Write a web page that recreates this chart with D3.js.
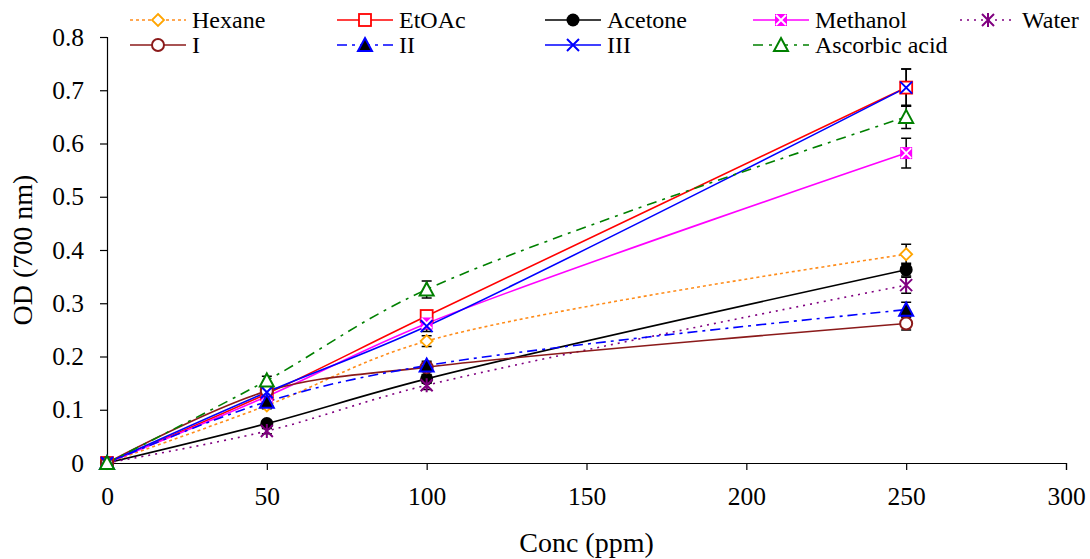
<!DOCTYPE html>
<html>
<head>
<meta charset="utf-8">
<script src="https://cdn.jsdelivr.net/npm/d3@7"></script>
<style>
  body { margin: 0; background: #fff; }
  text { font-family: "Liberation Serif", "Times New Roman", serif; fill: #000; }
</style>
</head>
<body>
<div id="chart"></div>
<script>
const conc = [0, 50, 100, 250];
const xTicks = [0, 50, 100, 150, 200, 250, 300];
const yTicks = [0, 0.1, 0.2, 0.3, 0.4, 0.5, 0.6, 0.7, 0.8];

const seriesNames = ["Hexane", "EtOAc", "Acetone", "Methanol", "Water", "I", "II", "III", "Ascorbic acid"];
const hexane   = [0, 0.108, 0.229, 0.392];
const etoac    = [0, 0.130, 0.276, 0.705];
const acetone  = [0, 0.074, 0.158, 0.363];
const methanol = [0, 0.125, 0.262, 0.582];
const water    = [0, 0.060, 0.146, 0.334];
const seriesI  = [0, 0.135, 0.180, 0.262];
const seriesII = [0, 0.115, 0.183, 0.288];
const seriesIII = [0, 0.133, 0.257, 0.705];
const ascorbic = [0, 0.155, 0.326, 0.650];

const errHexane   = [0, 0.006, 0.010, 0.019];
const errEtoac    = [0, 0.006, 0.010, 0.035];
const errAcetone  = [0, 0.005, 0.008, 0.012];
const errMethanol = [0, 0.006, 0.010, 0.028];
const errWater    = [0, 0.005, 0.008, 0.015];
const errI        = [0, 0.005, 0.008, 0.012];
const errII       = [0, 0.005, 0.008, 0.014];
const errIII      = [0, 0.006, 0.010, 0.035];
const errAscorbic = [0, 0.008, 0.016, 0.022];

const styles = [
  { color: "#FF8C1A", dash: "3,3", marker: "diamond" },
  { color: "#FF0000", dash: null, marker: "square" },
  { color: "#000000", dash: null, marker: "circle" },
  { color: "#FF00FF", dash: null, marker: "xsquare" },
  { color: "#800080", dash: "2,5", marker: "star" },
  { color: "#8B1A1A", dash: null, marker: "ocircle" },
  { color: "#0000FF", dash: "10,5,3,5", marker: "triangle" },
  { color: "#0000FF", dash: null, marker: "cross" },
  { color: "#008000", dash: "10,6,3,6", marker: "otriangle" }
];

const values = [hexane, etoac, acetone, methanol, water, seriesI, seriesII, seriesIII, ascorbic];
const errors = [errHexane, errEtoac, errAcetone, errMethanol, errWater, errI, errII, errIII, errAscorbic];

const width = 1090, height = 559;
const margin = { top: 37, right: 24, bottom: 96, left: 107 };

const svg = d3.select("#chart").append("svg")
  .attr("width", width)
  .attr("height", height);

const x = d3.scaleLinear().domain([0, 300]).range([margin.left, width - margin.right]);
const y = d3.scaleLinear().domain([0, 0.8]).range([height - margin.bottom, margin.top]);

// axes
const xAxis = svg.append("g")
  .attr("transform", `translate(0,${y(0)})`)
  .call(d3.axisBottom(x).tickValues(xTicks).tickSize(7).tickPadding(20).tickFormat(d3.format("d")));
const yAxis = svg.append("g")
  .attr("transform", `translate(${x(0)},0)`)
  .call(d3.axisLeft(y).tickValues(yTicks).tickSize(7).tickPadding(16).tickFormat(d => d === 0 ? "0" : d3.format(".1f")(d)));

[xAxis, yAxis].forEach(g => {
  g.select(".domain").attr("stroke", "#000").attr("stroke-width", 1.2);
  g.selectAll(".tick line").attr("stroke", "#000").attr("stroke-width", 1.2);
  g.selectAll(".tick text").style("font-size", "25.5px").style("font-family", "Liberation Serif").attr("fill", "#000");
});
xAxis.selectAll(".tick text").attr("dy", "0.6em");

svg.append("text")
  .attr("x", x(150))
  .attr("y", 552)
  .attr("text-anchor", "middle")
  .style("font-size", "28px")
  .text("Conc (ppm)");

svg.append("text")
  .attr("transform", `translate(32,${y(0.4)}) rotate(-90)`)
  .attr("text-anchor", "middle")
  .style("font-size", "28px")
  .text("OD (700 nm)");

function drawMarker(g, type, color, cx, cy) {
  const s = 6;
  if (type === "diamond") {
    g.append("path").attr("d", `M${cx},${cy - s}L${cx + s},${cy}L${cx},${cy + s}L${cx - s},${cy}Z`)
      .attr("fill", "#fff").attr("stroke", "#FFA500").attr("stroke-width", 1.8);
  } else if (type === "square") {
    g.append("rect").attr("x", cx - s).attr("y", cy - s).attr("width", 2 * s).attr("height", 2 * s)
      .attr("fill", "#fff").attr("stroke", color).attr("stroke-width", 1.8);
  } else if (type === "circle") {
    g.append("circle").attr("cx", cx).attr("cy", cy).attr("r", s + 0.5).attr("fill", "#000");
  } else if (type === "xsquare") {
    g.append("rect").attr("x", cx - s).attr("y", cy - s).attr("width", 2 * s).attr("height", 2 * s)
      .attr("fill", color);
    g.append("path").attr("d", `M${cx - s + 1},${cy - s + 1}L${cx + s - 1},${cy + s - 1}M${cx + s - 1},${cy - s + 1}L${cx - s + 1},${cy + s - 1}`)
      .attr("stroke", "#fff").attr("stroke-width", 1.8);
  } else if (type === "star") {
    g.append("path").attr("d", `M${cx - s},${cy - s}L${cx + s},${cy + s}M${cx + s},${cy - s}L${cx - s},${cy + s}M${cx},${cy - s - 1}L${cx},${cy + s + 1}`)
      .attr("stroke", color).attr("stroke-width", 2);
  } else if (type === "ocircle") {
    g.append("circle").attr("cx", cx).attr("cy", cy).attr("r", s).attr("fill", "#fff")
      .attr("stroke", color).attr("stroke-width", 2);
  } else if (type === "triangle") {
    g.append("path").attr("d", `M${cx},${cy - s - 1}L${cx + s + 1},${cy + s}L${cx - s - 1},${cy + s}Z`)
      .attr("fill", "#000").attr("stroke", color).attr("stroke-width", 2);
  } else if (type === "cross") {
    g.append("path").attr("d", `M${cx - s},${cy - s}L${cx + s},${cy + s}M${cx + s},${cy - s}L${cx - s},${cy + s}`)
      .attr("stroke", color).attr("stroke-width", 2);
  } else if (type === "otriangle") {
    g.append("path").attr("d", `M${cx},${cy - s - 1}L${cx + s + 1},${cy + s}L${cx - s - 1},${cy + s}Z`)
      .attr("fill", "#fff").attr("stroke", color).attr("stroke-width", 2);
  }
}

const line = d3.line()
  .x(d => x(d[0]))
  .y(d => y(d[1]))
  .curve(d3.curveCatmullRom.alpha(0.5));

const plot = svg.append("g");

// error bars
values.forEach((vals, i) => {
  conc.forEach((c, j) => {
    const e = errors[i][j];
    if (!e) return;
    const cx = x(c), y1 = y(vals[j] + e), y2 = y(vals[j] - e);
    plot.append("path")
      .attr("d", `M${cx},${y1}L${cx},${y2}M${cx - 5},${y1}L${cx + 5},${y1}M${cx - 5},${y2}L${cx + 5},${y2}`)
      .attr("stroke", "#000").attr("stroke-width", 1.5).attr("fill", "none");
  });
});

// lines
values.forEach((vals, i) => {
  const st = styles[i];
  plot.append("path")
    .datum(conc.map((c, j) => [c, vals[j]]))
    .attr("d", line)
    .attr("fill", "none")
    .attr("stroke", st.color)
    .attr("stroke-width", 1.6)
    .attr("stroke-dasharray", st.dash);
});

// markers
values.forEach((vals, i) => {
  const g = plot.append("g");
  conc.forEach((c, j) => drawMarker(g, styles[i].marker, styles[i].color, x(c), y(vals[j])));
});

// legend
const legendCols = [130, 337, 545, 753, 960];
const legendRows = [20, 45];
seriesNames.forEach((name, i) => {
  const col = legendCols[i % 5], row = legendRows[Math.floor(i / 5)];
  const st = styles[i];
  const g = svg.append("g");
  g.append("line")
    .attr("x1", col).attr("x2", col + 56)
    .attr("y1", row).attr("y2", row)
    .attr("stroke", st.color).attr("stroke-width", 1.6)
    .attr("stroke-dasharray", st.dash);
  drawMarker(g, st.marker, st.color, col + 28, row);
  g.append("text")
    .attr("x", col + 62)
    .attr("y", row)
    .attr("dy", "0.33em")
    .style("font-size", "24px")
    .text(name);
});
</script>
</body>
</html>
